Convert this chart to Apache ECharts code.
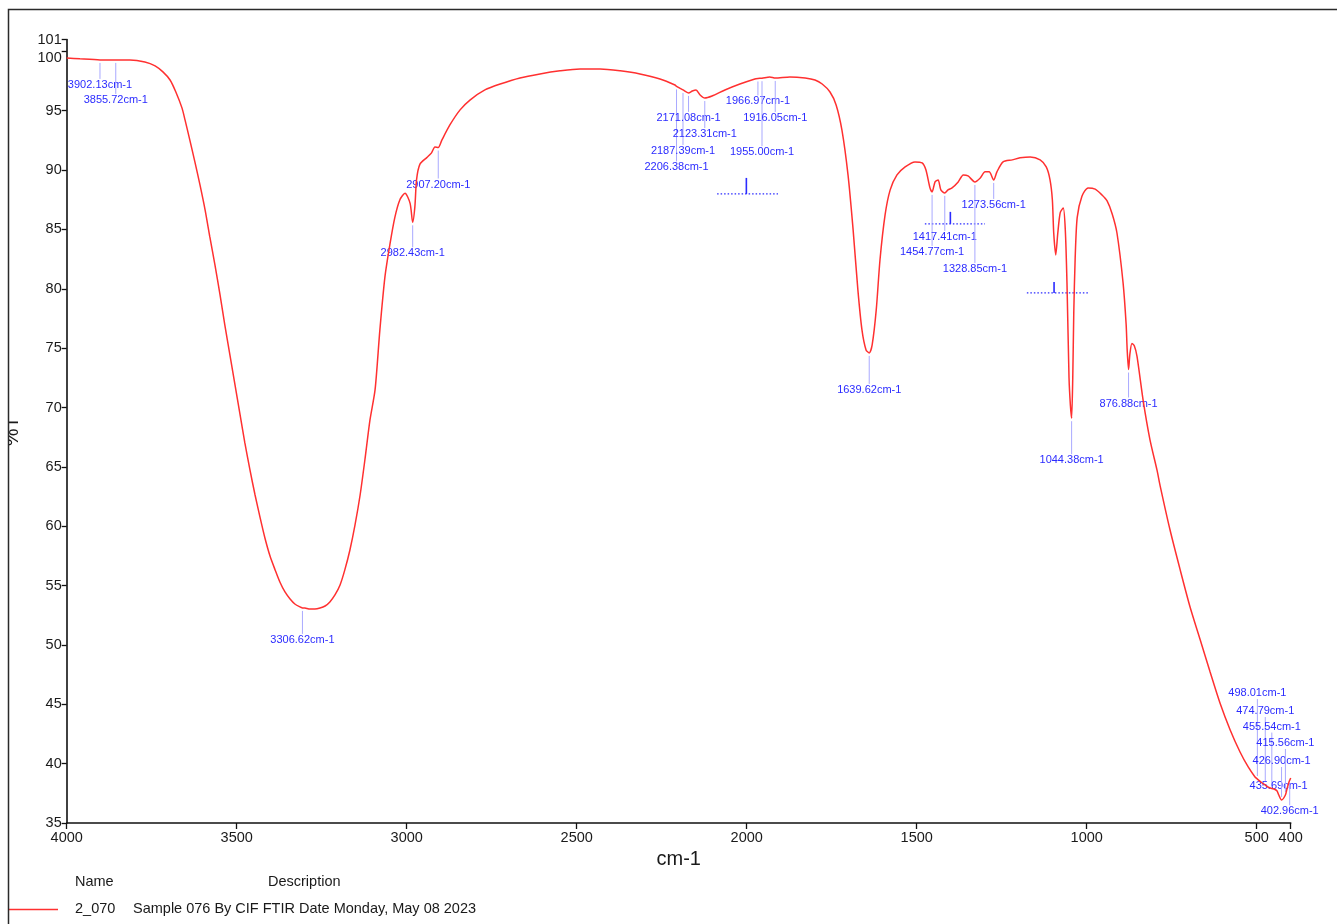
<!DOCTYPE html>
<html>
<head>
<meta charset="utf-8">
<script src="https://cdn.jsdelivr.net/npm/echarts@6/dist/echarts.min.js"></script>
<style>
  html, body { margin: 0; padding: 0; background: #ffffff; }
  #chart { width: 1337px; height: 924px; }
</style>
</head>
<body>
<div id="chart"></div>
<script>
// FTIR spectrum of sample 2_070: wavenumber (cm-1) and transmittance (%T)
const wavenumber = [
  4000, 3961, 3902, 3858, 3814, 3770, 3740, 3717, 3696, 3679, 3661, 3652, 3638, 3623, 3608,
  3593, 3579, 3564, 3549, 3535, 3520, 3505, 3490, 3476, 3461, 3446, 3431, 3417, 3402, 3387,
  3373, 3358, 3343, 3329, 3314, 3306.62, 3299, 3284, 3270, 3255, 3240, 3226, 3211, 3196, 3182,
  3167, 3152, 3137, 3123, 3108, 3093, 3079, 3064, 3049, 3035, 3020, 3005, 2990, 2982.43, 2976,
  2971, 2961, 2941, 2927, 2917, 2907.2, 2897, 2873, 2843, 2814, 2770, 2725, 2667, 2608, 2549,
  2490, 2431, 2372, 2314, 2255, 2211, 2206.38, 2187.39, 2171.08, 2160, 2149, 2137, 2123.31, 2102, 2064,
  2020, 1976, 1966.97, 1955, 1932, 1916.05, 1873, 1828, 1799, 1778, 1755, 1737, 1720, 1702, 1687,
  1673, 1661, 1649, 1639.62, 1631, 1619, 1608, 1593, 1578, 1558, 1534, 1505, 1484, 1473, 1461,
  1454.77, 1446, 1437, 1429, 1417.41, 1408, 1396, 1378, 1363, 1349, 1328.85, 1313, 1299, 1287, 1273.56,
  1264, 1246, 1219, 1196, 1166, 1137, 1119, 1108, 1101, 1097, 1091, 1085, 1078, 1069, 1063,
  1058, 1052, 1048, 1044.38, 1041, 1038, 1034, 1028, 1014, 996, 975, 955, 940, 925, 911,
  893, 884, 881, 876.88, 873, 867, 860, 852, 834, 814, 793, 784, 755, 725, 696,
  666, 637, 608, 578, 549, 525, 505, 498.01, 484, 474.79, 467, 455.54, 449, 440, 435.69,
  426.9, 415.56, 411, 405, 402.96, 400
];
const transmittance = [
  99.45, 99.37, 99.28, 99.28, 99.28, 99.11, 98.78, 98.27, 97.59, 96.58, 95.24, 94.23, 92.54, 90.69, 88.75,
  86.65, 84.37, 82.01, 79.48, 76.96, 74.43, 71.90, 69.37, 67.02, 64.74, 62.63, 60.70, 59.01, 57.49, 56.32,
  55.30, 54.46, 53.87, 53.45, 53.20, 53.12, 53.11, 53.03, 53.03, 53.11, 53.28, 53.62, 54.21, 55.05, 56.32,
  58.00, 60.11, 62.63, 65.58, 68.95, 71.50, 76.50, 81.00, 83.80, 86.00, 87.50, 88.05, 87.20, 85.60, 86.90,
  89.20, 90.50, 91.05, 91.45, 91.95, 91.90, 92.50, 93.80, 95.07, 95.90, 96.75, 97.25, 97.76, 98.10, 98.36,
  98.52, 98.52, 98.36, 98.10, 97.68, 97.17, 97.05, 96.75, 96.50, 96.66, 96.75, 96.33, 96.07, 96.24, 96.75,
  97.25, 97.68, 97.72, 97.74, 97.85, 97.76, 97.85, 97.76, 97.59, 97.25, 96.58, 95.49, 93.38, 89.59, 84.96,
  79.91, 76.54, 74.85, 74.60, 75.27, 78.22, 82.43, 86.22, 88.33, 89.59, 90.27, 90.69, 90.60, 90.02, 88.50,
  88.16, 89.00, 89.17, 88.33, 88.08, 88.33, 88.50, 89.00, 89.59, 89.51, 89.00, 89.34, 89.85, 89.85, 89.17,
  89.85, 90.69, 90.86, 91.03, 91.11, 90.86, 90.27, 89.20, 87.50, 84.70, 82.85, 84.70, 86.40, 86.80, 85.00,
  80.50, 72.50, 70.20, 69.10, 72.50, 78.00, 82.50, 86.00, 87.80, 88.50, 88.40, 87.90, 87.40, 86.30, 84.70,
  80.50, 77.00, 74.90, 73.20, 74.50, 75.40, 75.20, 74.30, 70.60, 67.30, 64.70, 63.40, 59.70, 56.32, 53.20,
  50.42, 47.72, 45.11, 42.84, 40.98, 39.72, 38.88, 38.70, 38.37, 38.20, 38.03, 37.90, 37.86, 37.70, 37.40,
  36.94, 37.36, 37.86, 38.45, 38.60, 38.79
];

// Annotated peak positions and their %T
const peakWavenumber = [
  3902.13, 3855.72, 3306.62, 2982.43, 2907.20, 2206.38, 2187.39, 2171.08, 2123.31,
  1966.97, 1955.00, 1916.05, 1639.62, 1454.77, 1417.41, 1328.85, 1273.56, 1044.38, 876.88,
  498.01, 474.79, 455.54, 435.69, 426.90, 415.56, 402.96
];
const peakTransmittance = [
  99.28, 99.28, 53.12, 85.60, 91.90, 97.05, 96.75, 96.50, 96.07,
  97.72, 97.74, 97.76, 74.60, 88.16, 88.08, 89.00, 89.17, 69.10, 73.20,
  38.70, 38.20, 37.90, 37.40, 36.94, 37.36, 38.60
];
// Vertical distance (px) from each peak to its label; negative puts the label above
const peakLabelOffset = [
  25, 40, 32, 31, 37, 81, 61, 25, 36,
  23, 74, 40, 37, 60, 44, 87, 25, 42, 34,
  -86, -74, -62, -9, -39, -52, 31
];

// Collapsed annotation markers: span start, span end, tick position, level, tick top
const markerFrom = [2087, 1476, 1176];
const markerTo = [1908, 1299, 996];
const markerTick = [2001, 1401, 1096];
const markerLevel = [87.99, 85.47, 79.65];
const markerTickTop = [89.34, 86.48, 80.58];

const xTickValues = [4000, 3500, 3000, 2500, 2000, 1500, 1000, 500, 400];
const yTickValues = [35, 40, 45, 50, 55, 60, 65, 70, 75, 80, 85, 90, 95, 100, 101];

const legendHeader = ['Name', 'Description'];
const sampleName = '2_070';
const sampleDescription = 'Sample 076 By CIF FTIR Date Monday, May 08 2023';

const FONT = 'Liberation Sans, Arial, sans-serif';
const chart = echarts.init(document.getElementById('chart'), null, { renderer: 'canvas' });

const spectrum = wavenumber.map((w, i) => [w, transmittance[i]]);
const peaks = peakWavenumber.map((w, i) => [w, peakTransmittance[i], peakLabelOffset[i]]);
const markers = markerFrom.map((f, i) => [f, markerTo[i], markerTick[i], markerLevel[i], markerTickTop[i]]);

chart.setOption({
  animation: false,
  backgroundColor: '#ffffff',
  grid: { left: 66.7, right: 46.3, top: 39.5, bottom: 101, outerBoundsMode: 'none', containLabel: false },
  xAxis: {
    type: 'value',
    inverse: true,
    min: 400,
    max: 4000,
    name: 'cm-1',
    nameLocation: 'middle',
    nameGap: 24,
    nameTextStyle: { fontFamily: FONT, fontSize: 20, color: '#1a1a1a' },
    splitLine: { show: false },
    axisLine: { show: true, onZero: false, lineStyle: { color: '#111', width: 1.6 } },
    axisTick: { show: true, length: 6, customValues: xTickValues, lineStyle: { color: '#111', width: 1.3 } },
    axisLabel: {
      customValues: xTickValues,
      margin: 7,
      fontFamily: FONT,
      fontSize: 14.5,
      color: '#1a1a1a',
      formatter: v => String(v)
    }
  },
  yAxis: {
    type: 'value',
    min: 35,
    max: 101,
    name: '%T',
    nameLocation: 'middle',
    nameGap: 44,
    nameRotate: 90,
    nameTextStyle: { fontFamily: FONT, fontSize: 20, color: '#1a1a1a' },
    splitLine: { show: false },
    axisLine: { show: true, onZero: false, lineStyle: { color: '#111', width: 1.6 } },
    axisTick: { show: true, length: 5, customValues: yTickValues, lineStyle: { color: '#111', width: 1.3 } },
    axisLabel: {
      customValues: yTickValues,
      margin: 5,
      fontFamily: FONT,
      fontSize: 14.5,
      color: '#1a1a1a',
      formatter: v => (v === 100 ? '{low|100}' : String(v)),
      rich: { low: { fontFamily: FONT, fontSize: 14.5, color: '#1a1a1a', padding: [13, 0, 0, 0] } }
    }
  },
  series: [
    {
      type: 'custom',
      name: 'markers',
      coordinateSystem: 'cartesian2d',
      clip: false,
      z: 3,
      data: markers,
      renderItem: (params, api) => {
        const a = api.coord([api.value(0), api.value(3)]);
        const b = api.coord([api.value(1), api.value(3)]);
        const t = api.coord([api.value(2), api.value(4)]);
        return {
          type: 'group',
          children: [
            { type: 'line', shape: { x1: a[0], y1: a[1], x2: b[0], y2: b[1] },
              style: { stroke: '#2b2bff', lineWidth: 1.2, lineDash: [1.5, 2] } },
            { type: 'line', shape: { x1: t[0], y1: t[1], x2: t[0], y2: a[1] },
              style: { stroke: '#2b2bff', lineWidth: 1.6 } }
          ]
        };
      }
    },
    {
      type: 'custom',
      name: 'peaks',
      coordinateSystem: 'cartesian2d',
      clip: false,
      z: 3,
      data: peaks,
      renderItem: (params, api) => {
        const w = api.value(0);
        const p = api.coord([w, api.value(1)]);
        const off = api.value(2);
        const ly = p[1] + off;
        const half = 6;
        let y1, y2;
        if (off > 0) { y1 = p[1] + 3; y2 = ly - half; }
        else { y1 = ly + half; y2 = p[1] - 3; }
        return {
          type: 'group',
          children: [
            { type: 'line', shape: { x1: p[0], y1: y1, x2: p[0], y2: y2 },
              style: { stroke: '#a9a9ff', lineWidth: 1 } },
            { type: 'text', x: p[0], y: ly,
              style: { text: w.toFixed(2) + 'cm-1', align: 'center', verticalAlign: 'middle',
                       fill: '#2b2bff', fontFamily: FONT, fontSize: 11 } }
          ]
        };
      }
    },
    {
      type: 'line',
      name: sampleName,
      data: spectrum,
      showSymbol: false,
      smooth: 0.25,
      z: 4,
      lineStyle: { color: '#ff3030', width: 1.5 }
    }
  ],
  graphic: [
    { type: 'rect', silent: true, shape: { x: 0, y: 0, width: 8, height: 924 },
      style: { fill: '#ffffff' }, z: 10 },
    { type: 'polyline', silent: true, z: 11,
      shape: { points: [[8.5, 930], [8.5, 9.5], [1340, 9.5]] },
      style: { stroke: '#2a2a2a', lineWidth: 1.5, fill: null } },
    { type: 'text', left: 75, top: 874,
      style: { text: legendHeader[0], fontFamily: FONT, fontSize: 14.5, fill: '#1a1a1a' } },
    { type: 'text', left: 268, top: 874,
      style: { text: legendHeader[1], fontFamily: FONT, fontSize: 14.5, fill: '#1a1a1a' } },
    { type: 'line', shape: { x1: 8, y1: 909.5, x2: 58, y2: 909.5 },
      style: { stroke: '#ff3030', lineWidth: 1.5 } },
    { type: 'text', left: 75, top: 901,
      style: { text: sampleName, fontFamily: FONT, fontSize: 14.5, fill: '#1a1a1a' } },
    { type: 'text', left: 133, top: 901,
      style: { text: sampleDescription, fontFamily: FONT, fontSize: 14.5, fill: '#1a1a1a' } }
  ]
});
</script>
</body>
</html>
